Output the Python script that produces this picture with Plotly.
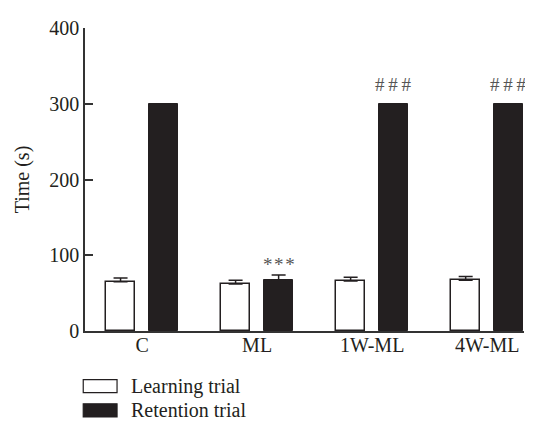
import plotly.graph_objects as go

groups = ["C", "ML", "1W-ML", "4W-ML"]
learning = [65, 62, 66, 67]
learning_err = [5, 5, 5, 5]
retention = [300, 67, 300, 300]
retention_err = [0, 7, 0, 0]
marks = ["", "*\u200a*\u200a*", "#\u2009#\u2009#", "#\u2009#\u2009#"]
yticks = [0, 100, 200, 300, 400]

xpos = list(range(len(groups)))
DARK = "#231f20"
FONT = "Liberation Serif, DejaVu Serif, serif"

fig = go.Figure()
fig.add_trace(go.Bar(
    x=xpos, y=learning, width=0.252, offset=-0.313,
    marker=dict(color="white", line=dict(color=DARK, width=1.5)),
    error_y=dict(type="data", array=learning_err, arrayminus=[0]*4, symmetric=False,
                 color=DARK, thickness=1.5, width=7),
    name="Learning trial", showlegend=False))
fig.add_trace(go.Bar(
    x=xpos, y=retention, width=0.252, offset=0.061,
    marker=dict(color=DARK, line=dict(color=DARK, width=1)),
    error_y=dict(type="data", array=retention_err, arrayminus=[0]*4, symmetric=False,
                 color=DARK, thickness=1.5, width=7),
    name="Retention trial", showlegend=False))

for i, m in enumerate(marks):
    if m:
        top = retention[i] + retention_err[i]
        shift = 19 if top >= 300 else 10
        fig.add_annotation(x=i + 0.187, y=top, text=m, showarrow=False,
                           yanchor="middle", yshift=shift,
                           font=dict(family=FONT, size=19, color="#555555"))

# custom legend
legend_items = [("Learning trial", "white"), ("Retention trial", DARK)]
for k, (label, col) in enumerate(legend_items):
    yc = -0.182 - k * 0.080
    fig.add_shape(type="rect", xref="paper", yref="paper",
                  x0=-0.004, x1=0.073, y0=yc - 0.0215, y1=yc + 0.0215,
                  fillcolor=col, line=dict(color=DARK, width=1.2))
    fig.add_annotation(xref="paper", yref="paper", x=0.100, y=yc, text=label,
                       showarrow=False, xanchor="left", yanchor="middle",
                       font=dict(family=FONT, size=20, color=DARK))

fig.update_layout(
    width=525, height=413,
    margin=dict(l=77, r=9, t=14, b=90),
    plot_bgcolor="white", paper_bgcolor="white",
    font=dict(family=FONT, size=20, color=DARK),
    bargap=0,
)
fig.update_xaxes(range=[-0.496, 3.32], tickvals=xpos, ticktext=groups,
                 showline=True, linecolor="#333333", linewidth=1.5,
                 ticks="", showgrid=False, zeroline=False, ticklabelstandoff=-5,
                 tickfont=dict(family=FONT, size=20, color=DARK))
fig.update_yaxes(range=[0, 400], tickvals=yticks, showline=True,
                 linecolor="#333333", linewidth=1.5, ticks="inside", ticklen=8,
                 tickcolor="#333333", tickwidth=1.5, showgrid=False, zeroline=False,
                 tickfont=dict(family=FONT, size=20, color=DARK),
                 title=dict(text="Time (s)", standoff=14,
                            font=dict(family=FONT, size=20, color=DARK)))

fig.write_html("out.html")
